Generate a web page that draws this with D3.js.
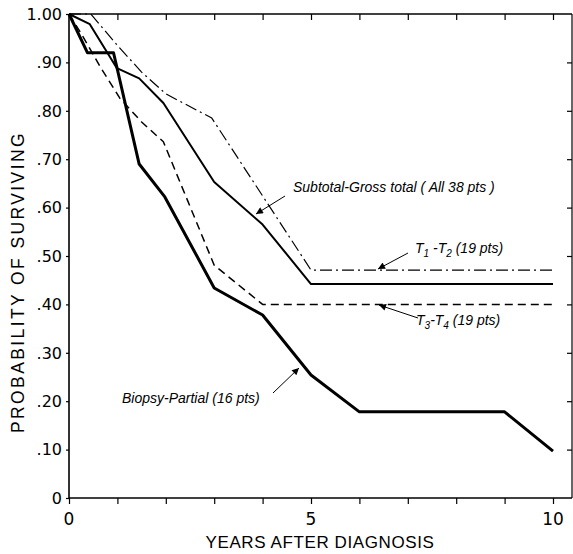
<!DOCTYPE html>
<html><head><meta charset="utf-8">
<script src="https://cdn.jsdelivr.net/npm/d3@7"></script>
<style>body{margin:0;background:#fff}svg{display:block}</style>
</head><body>
<svg id="c" width="573" height="554"></svg>
<script>
// Data (years after diagnosis, probability of surviving)
const biopsyX = [0, 0.38, 0.92, 1.45, 1.98, 3.0, 4.0, 5.0, 6.0, 9.0, 10.0];
const biopsyY = [1.00, 0.92, 0.92, 0.69, 0.622, 0.434, 0.378, 0.254, 0.178, 0.178, 0.097];
const subtotalX = [0, 0.43, 0.99, 1.45, 1.95, 3.0, 4.0, 5.0, 10.0];
const subtotalY = [1.00, 0.979, 0.888, 0.867, 0.816, 0.653, 0.565, 0.442, 0.442];
const t12X = [0, 0.45, 1.0, 1.5, 2.0, 2.95, 5.0, 10.0];
const t12Y = [1.00, 1.00, 0.935, 0.88, 0.835, 0.785, 0.471, 0.471];
const t34X = [0, 0.25, 0.65, 1.05, 1.5, 1.95, 3.0, 4.0, 10.0];
const t34Y = [1.00, 0.96, 0.89, 0.826, 0.777, 0.736, 0.481, 0.40, 0.40];
const yTicks = [0, 0.1, 0.2, 0.3, 0.4, 0.5, 0.6, 0.7, 0.8, 0.9, 1.0];
const yTickLabels = ["0", ".10", ".20", ".30", ".40", ".50", ".60", ".70", ".80", ".90", "1.00"];
const xTicks = [0,1,2,3,4,5,6,7,8,9,10];
const xTickLabels = ["0", "5", "10"];
const xTickLabelValues = [0, 5, 10];

const svg = d3.select("#c");
const x = d3.scaleLinear().domain([0, 10]).range([69, 553]);
const y = d3.scaleLinear().domain([0, 1]).range([498, 14]);
const xRight = 572;

// Frame lines
svg.append("line").attr("x1", 69).attr("x2", 69).attr("y1", y(1)).attr("y2", y(0)).attr("stroke", "#000").attr("stroke-width", 1.6);
svg.append("line").attr("x1", 69).attr("x2", xRight).attr("y1", y(0)).attr("y2", y(0)).attr("stroke", "#000").attr("stroke-width", 1.6);
svg.append("line").attr("x1", 69).attr("x2", xRight).attr("y1", y(1)).attr("y2", y(1)).attr("stroke", "#000").attr("stroke-width", 1.6);
svg.append("line").attr("x1", xRight).attr("x2", xRight).attr("y1", y(1)).attr("y2", y(0)).attr("stroke", "#000").attr("stroke-width", 1.2);

// Left axis (ticks outward)
const leftAxis = d3.axisLeft(y).tickValues(yTicks).tickSize(3).tickFormat(() => "");
const gl = svg.append("g").attr("transform", "translate(69,0)").call(leftAxis);
gl.select(".domain").remove();
gl.selectAll("line").attr("stroke-width", 1.2);
svg.selectAll(".ylab").data(yTicks).enter().append("text")
  .attr("x", 62).attr("y", d => y(d)).attr("dy", "0.36em")
  .attr("text-anchor", "end")
  .attr("font-family", "DejaVu Sans").attr("font-size", 16).attr("fill", "#000")
  .text((d, i) => yTickLabels[i]);

// Right ticks inward
const rightAxis = d3.axisLeft(y).tickValues(yTicks.slice(1, 10)).tickSize(5).tickFormat(() => "");
const gr = svg.append("g").attr("transform", `translate(${xRight},0)`).call(rightAxis);
gr.select(".domain").remove();
gr.selectAll("line").attr("stroke-width", 1.2);

// Bottom axis ticks (downward)
const bottomAxis = d3.axisBottom(x).tickValues(xTicks).tickSize(6).tickFormat(() => "");
const gb = svg.append("g").attr("transform", `translate(0,${y(0)})`).call(bottomAxis);
gb.select(".domain").remove();
gb.selectAll("line").attr("stroke-width", 1.2);
svg.selectAll(".xlab").data(xTickLabelValues).enter().append("text")
  .attr("x", d => x(d)).attr("y", 525)
  .attr("text-anchor", "middle")
  .attr("font-family", "DejaVu Sans").attr("font-size", 17).attr("fill", "#000")
  .text((d, i) => xTickLabels[i]);

// Top ticks (pointing down into plot)
const topAxis = d3.axisBottom(x).tickValues(xTicks.slice(1)).tickSize(6).tickFormat(() => "");
const gt = svg.append("g").attr("transform", `translate(0,${y(1)})`).call(topAxis);
gt.select(".domain").remove();
gt.selectAll("line").attr("stroke-width", 1.2);

// Axis titles
svg.append("text").attr("x", 320).attr("y", 548).attr("text-anchor", "middle")
  .attr("font-family", "Liberation Sans").attr("font-size", 17).attr("letter-spacing", 0.6)
  .attr("fill", "#000").text("YEARS AFTER DIAGNOSIS");
svg.append("text").attr("transform", "translate(24,282) rotate(-90)").attr("text-anchor", "middle")
  .attr("font-family", "Liberation Sans").attr("font-size", 17.5).attr("letter-spacing", 2.4)
  .attr("fill", "#000").text("PROBABILITY OF SURVIVING");

// Curves
const line = d3.line().x(d => x(d[0])).y(d => y(d[1]));
function draw(xs, ys, w, dash) {
  const pts = xs.map((v, i) => [v, ys[i]]);
  svg.append("path").datum(pts).attr("d", line).attr("fill", "none")
    .attr("stroke", "#000").attr("stroke-width", w)
    .attr("stroke-linejoin", "round")
    .attr("stroke-dasharray", dash || null);
}
draw(t12X, t12Y, 1.2, "12,4,2,4");
draw(t34X, t34Y, 1.5, "8,5");
draw(subtotalX, subtotalY, 2, null);
draw(biopsyX, biopsyY, 3, null);

// Annotations
const defs = svg.append("defs");
defs.append("marker").attr("id", "ah").attr("viewBox", "0 0 10 10").attr("refX", 10).attr("refY", 5)
  .attr("markerWidth", 9).attr("markerHeight", 7).attr("markerUnits", "userSpaceOnUse").attr("orient", "auto")
  .append("path").attr("d", "M0,0 L10,5 L0,10 Z").attr("fill", "#000");
function arrow(x1, y1, x2, y2) {
  svg.append("line").attr("x1", x1).attr("y1", y1).attr("x2", x2).attr("y2", y2)
    .attr("stroke", "#000").attr("stroke-width", 1).attr("marker-end", "url(#ah)");
}
function label(tx, ty, parts) {
  const t = svg.append("text").attr("x", tx).attr("y", ty)
    .attr("font-family", "Liberation Sans").attr("font-style", "italic").attr("font-size", 14).attr("fill", "#000");
  parts.forEach(p => {
    const s = t.append("tspan").text(p[0]);
    if (p[1] > 0) s.attr("font-size", 10).attr("dy", p[1]);
    else if (p[1] < 0) s.attr("font-size", 14).attr("dy", p[1]);
  });
}
label(293, 192, [["Subtotal-Gross total ( All 38 pts )"]]);
arrow(285, 196, 256, 214);
label(415, 253, [["T"], ["1", 4], [" -T", -4], ["2", 4], [" (19 pts)", -4]]);
arrow(408, 253, 378, 269);
label(416, 325, [["T"], ["3", 4], ["-T", -4], ["4", 4], [" (19 pts)", -4]]);
arrow(418, 318, 379, 305);
label(122, 403, [["Biopsy-Partial (16 pts)"]]);
arrow(273, 393, 299, 368);
</script>
</body></html>
